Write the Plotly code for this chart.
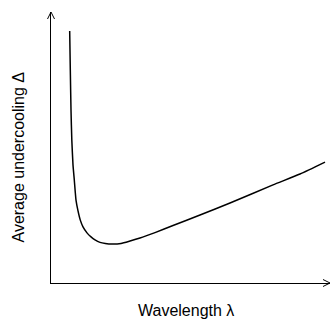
import plotly.graph_objects as go

# Wavelength (arbitrary units) and average undercooling (arbitrary units)
wavelength = [0.670, 0.692, 0.717, 0.746, 0.789, 0.835, 0.896, 0.968, 1.050, 1.147,
              1.290, 1.434, 1.577, 1.756, 1.946, 2.186, 2.509, 2.832, 3.190, 3.728,
              4.373, 5.341, 6.416, 7.957, 8.925, 9.821]
undercooling = [9.30, 7.86, 6.38, 5.28, 4.35, 3.80, 3.06, 2.66, 2.32, 2.07,
                1.85, 1.70, 1.59, 1.50, 1.46, 1.44, 1.46, 1.55, 1.66, 1.86,
                2.12, 2.51, 2.95, 3.62, 4.02, 4.46]

x_title = "Wavelength λ"
y_title = "Average undercooling Δ"

fig = go.Figure()
fig.add_trace(go.Scatter(x=wavelength, y=undercooling, mode="lines",
                         line=dict(color="black", width=1.5, shape="spline", smoothing=0.5),
                         hoverinfo="skip", showlegend=False))

W, H = 331, 327
ml, mr, mt, mb = 51, 1, 12, 44
pw, ph = W - ml - mr, H - mt - mb
dx, dy = 3.5 / pw, 7 / ph
dx2, dy2 = 7 / pw, 3.5 / ph

shapes = [
    dict(type="path", xref="paper", yref="paper",
         path=f"M {-dx} {1-dy} L 0 1 L {dx} {1-dy}", line=dict(color="black", width=1)),
    dict(type="path", xref="paper", yref="paper",
         path=f"M {1-dx2} {dy2} L 1 0 L {1-dx2} {-dy2}", line=dict(color="black", width=1)),
]

fig.update_layout(
    width=W, height=H,
    margin=dict(l=ml, r=mr, t=mt, b=mb),
    paper_bgcolor="white", plot_bgcolor="white",
    xaxis=dict(range=[0, 10], showgrid=False, zeroline=False, showticklabels=False,
               ticks="", showline=True, linecolor="black", linewidth=1),
    yaxis=dict(range=[0, 10], showgrid=False, zeroline=False, showticklabels=False,
               ticks="", showline=True, linecolor="black", linewidth=1),
    shapes=shapes,
    annotations=[
        dict(text=x_title, xref="paper", yref="paper", x=(186 - ml) / pw, y=-27 / ph,
             xanchor="center", yanchor="middle", showarrow=False,
             font=dict(family="Liberation Sans, Arial", size=16, color="black")),
        dict(text=y_title, xref="paper", yref="paper", x=(17.5 - ml) / pw,
             y=(283 - 157) / ph,
             xanchor="center", yanchor="middle", showarrow=False, textangle=-90,
             font=dict(family="Liberation Sans, Arial", size=16, color="black")),
    ],
)

fig.write_html("out.html")
